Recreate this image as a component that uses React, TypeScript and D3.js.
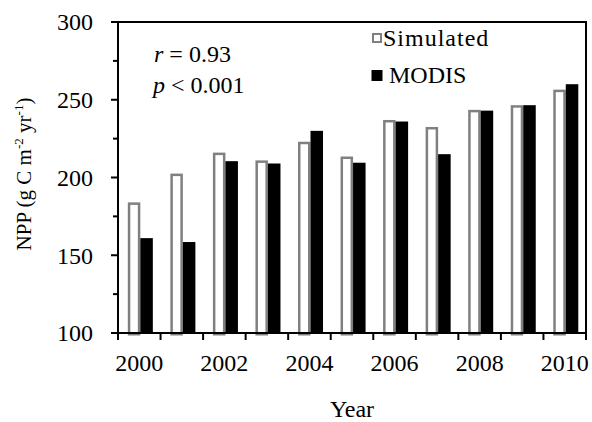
import { useEffect, useRef } from 'react';
import * as d3 from 'd3';

const YEARS = [2000, 2001, 2002, 2003, 2004, 2005, 2006, 2007, 2008, 2009, 2010];
const SIMULATED = [184, 202.5, 216, 211, 223, 213.5, 237, 232.5, 243.5, 246.5, 256.5];
const MODIS = [161, 158.5, 210.5, 209, 230, 209.5, 236, 215, 243, 246.5, 260];
const SERIES = ['Simulated', 'MODIS'];
const Y_TICKS = [100, 150, 200, 250, 300];
const Y_MINOR = [125, 175, 225, 275];

const WIDTH = 592;
const HEIGHT = 422;
const FONT = 'Liberation Serif, serif';

/**
 * Grouped bar chart: simulated vs. MODIS NPP, 2000-2010.
 * Hollow grey bars for the model, solid black bars for MODIS.
 */
export default function App() {
  const svgRef = useRef<SVGSVGElement>(null);

  useEffect(() => {
    if (!svgRef.current) return;

    const svg = d3.select(svgRef.current);
    svg.selectAll('*').remove();

    const left = 118;
    const right = 586;
    const top = 22;
    const bottom = 333;

    const x = d3.scaleBand<number>().domain(YEARS).range([left, right]).padding(0);
    const inner = d3.scaleBand<string>()
      .domain(SERIES)
      .range([0, x.bandwidth()])
      .paddingInner(0)
      .paddingOuter(0.7)
      .align(0.56);
    const y = d3.scaleLinear().domain([100, 300]).range([bottom, top]);

    const rows = YEARS.map((year, i) => ({ year, sim: SIMULATED[i], modis: MODIS[i] }));
    const sw = 2.5;

    // Simulated bars (hollow grey)
    svg.append('g')
      .selectAll('rect')
      .data(rows)
      .enter()
      .append('rect')
      .attr('x', d => (x(d.year) as number) + (inner('Simulated') as number) + sw / 2)
      .attr('y', d => y(d.sim) + sw / 2)
      .attr('width', inner.bandwidth() - sw)
      .attr('height', d => bottom - y(d.sim))
      .attr('fill', '#fff')
      .attr('stroke', '#808080')
      .attr('stroke-width', sw);

    // MODIS bars (solid black)
    svg.append('g')
      .selectAll('rect')
      .data(rows)
      .enter()
      .append('rect')
      .attr('x', d => (x(d.year) as number) + (inner('MODIS') as number))
      .attr('y', d => y(d.modis))
      .attr('width', inner.bandwidth())
      .attr('height', d => bottom - y(d.modis))
      .attr('fill', '#000');

    // Frame
    svg.append('rect')
      .attr('x', left)
      .attr('y', top)
      .attr('width', right - left)
      .attr('height', bottom - top)
      .attr('fill', 'none')
      .attr('stroke', '#000')
      .attr('stroke-width', 2);

    // Y ticks
    const axis = svg.append('g').attr('stroke', '#000').attr('stroke-width', 2);
    Y_TICKS.forEach(v => {
      axis.append('line').attr('x1', left - 7).attr('x2', left).attr('y1', y(v)).attr('y2', y(v));
    });
    Y_MINOR.forEach(v => {
      axis.append('line').attr('x1', left - 5).attr('x2', left).attr('y1', y(v)).attr('y2', y(v));
    });

    // X ticks at category boundaries
    const edges = YEARS.map(yr => x(yr) as number).concat([right]);
    edges.forEach(px => {
      axis.append('line').attr('x1', px).attr('x2', px).attr('y1', bottom).attr('y2', bottom + 7);
    });

    const label = (sel: d3.Selection<SVGTextElement, unknown, null, undefined>) =>
      sel.style('font-family', FONT).style('font-size', '24px').attr('fill', '#000');

    // Y tick labels
    Y_TICKS.forEach(v => {
      svg.append('text')
        .call(label)
        .attr('x', 93)
        .attr('y', y(v))
        .attr('dy', '0.35em')
        .attr('text-anchor', 'end')
        .text(String(v));
    });

    // X tick labels (even years only)
    YEARS.filter(yr => yr % 2 === 0).forEach(yr => {
      svg.append('text')
        .call(label)
        .attr('x', (x(yr) as number) + x.bandwidth() / 2)
        .attr('y', 371)
        .attr('text-anchor', 'middle')
        .text(String(yr));
    });

    // Axis titles
    svg.append('text')
      .call(label)
      .attr('x', (left + right) / 2)
      .attr('y', 417)
      .attr('text-anchor', 'middle')
      .text('Year');

    const yTitle = svg.append('text')
      .call(label)
      .style('font-size', '21px')
      .attr('transform', 'translate(31,174) rotate(-90)')
      .attr('text-anchor', 'middle');
    yTitle.append('tspan').text('NPP (g C m');
    yTitle.append('tspan').style('font-size', '13px').attr('dy', -8).text('-2');
    yTitle.append('tspan').attr('dy', 8).text(' yr');
    yTitle.append('tspan').style('font-size', '13px').attr('dy', -8).text('-1');
    yTitle.append('tspan').attr('dy', 8).text(')');

    // Statistics
    const stat1 = svg.append('text').call(label).attr('x', 154).attr('y', 62);
    stat1.append('tspan').style('font-style', 'italic').text('r');
    stat1.append('tspan').text(' = 0.93');
    const stat2 = svg.append('text').call(label).attr('x', 153).attr('y', 92.5);
    stat2.append('tspan').style('font-style', 'italic').text('p');
    stat2.append('tspan').text(' < 0.001');

    // Legend
    svg.append('rect')
      .attr('x', 373)
      .attr('y', 34)
      .attr('width', 8)
      .attr('height', 8)
      .attr('fill', '#fff')
      .attr('stroke', '#808080')
      .attr('stroke-width', 2);
    svg.append('text')
      .call(label)
      .attr('x', 383)
      .attr('y', 45.5)
      .style('letter-spacing', '1px')
      .text('Simulated');

    svg.append('rect')
      .attr('x', 371.5)
      .attr('y', 70)
      .attr('width', 11)
      .attr('height', 11)
      .attr('fill', '#000');
    svg.append('text').call(label).attr('x', 389).attr('y', 83).text('MODIS');
  }, []);

  return (
    <svg
      ref={svgRef}
      width={WIDTH}
      height={HEIGHT}
      style={{ position: 'absolute', left: 0, top: 0, background: '#fff' }}
    />
  );
}
